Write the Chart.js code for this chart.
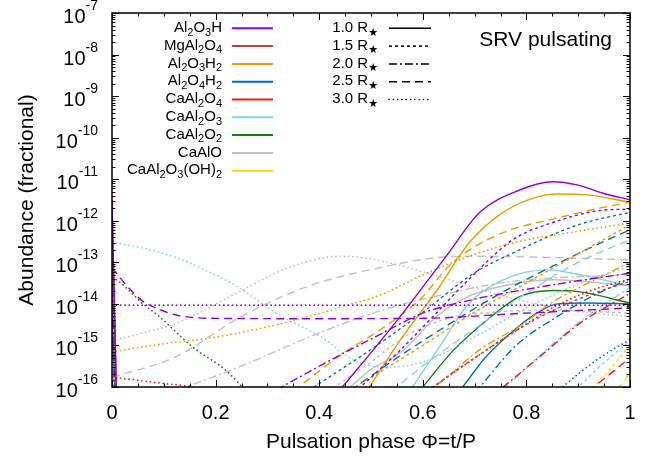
<!DOCTYPE html>
<html>
<head>
<meta charset="utf-8">
<script src="https://cdn.jsdelivr.net/npm/chart.js@4.4.1/dist/chart.umd.min.js"></script>
<style>
html, body { margin: 0; padding: 0; background: #fff; }
#wrap { width: 658px; height: 461px; position: relative; }
</style>
</head>
<body>
<div id="wrap"><canvas id="grafica"></canvas></div>
<script>
// Ejes y etiquetas
const xTicks = [0, 0.2, 0.4, 0.6, 0.8, 1];
const xTickLabels = ['0', '0.2', '0.4', '0.6', '0.8', '1'];
const xMinorTicks = [0.05, 0.1, 0.15, 0.25, 0.3, 0.35, 0.45, 0.5, 0.55, 0.65, 0.7, 0.75, 0.85, 0.9, 0.95];
const yTicks = [1e-7, 1e-8, 1e-9, 1e-10, 1e-11, 1e-12, 1e-13, 1e-14, 1e-15, 1e-16];
const yTickExps = ['-7', '-8', '-9', '-10', '-11', '-12', '-13', '-14', '-15', '-16'];
const yMinorFactors = [2, 3, 4, 5, 6, 7, 8, 9];

// Especies y radios
const speciesNames = ['Al_2O_3H', 'MgAl_2O_4', 'Al_2O_3H_2', 'Al_2O_4H_2', 'CaAl_2O_4', 'CaAl_2O_3', 'CaAl_2O_2', 'CaAlO', 'CaAl_2O_3(OH)_2'];
const speciesColors = ['#9400d3', '#b8433f', '#e69f00', '#0072b2', '#e51e10', '#87ceeb', '#1a7a1a', '#c0c0c0', '#ffd700'];
const radiusLabels = ['1.0 R_\u2605', '1.5 R_\u2605', '2.0 R_\u2605', '2.5 R_\u2605', '3.0 R_\u2605'];
const radiusDashes = [[], [3, 3], [8, 3, 2, 3], [8, 5], [0.1, 4.2]];

// Datos [fase, abundancia]; null corta la curva (tramo por debajo del eje)
const Al2O3H_10 = [[0,3.2e-12],[0.01,1e-17],[0.02,null],[0.40,2e-17],[0.44,8.5e-17],[0.497,6e-16],[0.561,5.9e-15],[0.646,1.45e-13],[0.71,1.6e-12],[0.787,5.5e-12],[0.851,8.7e-12],[0.9,7.2e-12],[0.948,4.6e-12],[1,3.2e-12]];
const Al2O3H_15 = [[0,1.9e-12],[0.01,1e-17],[0.02,null],[0.45,4.5e-17],[0.48,1e-16],[0.555,7.4e-16],[0.62,5e-15],[0.69,4e-14],[0.774,3.5e-13],[0.851,9.1e-13],[0.948,1.8e-12],[1,1.9e-12]];
const Al2O3H_20 = [[0,5.5e-14],[0.008,1e-17],[0.02,null],[0.29,5.7e-17],[0.327,1e-16],[0.42,4.3e-16],[0.516,1.8e-15],[0.6,6e-15],[0.7,1.3e-14],[0.787,2.1e-14],[0.9,3.6e-14],[1,5.5e-14]];
const Al2O3H_25 = [[0,7.4e-14],[0.03,2.6e-14],[0.058,1.2e-14],[0.09,7.5e-15],[0.124,5.4e-15],[0.19,4.5e-15],[0.4,4.4e-15],[0.6,4.5e-15],[0.787,5.9e-15],[1,8e-15]];
const Al2O3H_30 = [[0,9.3e-15],[0.5,9.3e-15],[1,9.3e-15]];

const MgAl2O4_15 = [[0.59,5e-17],[0.62,1e-16],[0.7,5e-16],[0.8,3.2e-15],[0.9,1.3e-14],[1,3.5e-14]];

const Al2O3H2_10 = [[0,2.8e-12],[0.01,1e-17],[0.02,null],[0.47,3e-17],[0.497,1e-16],[0.561,1.6e-15],[0.627,2.1e-14],[0.69,3e-13],[0.755,1.6e-12],[0.82,3.7e-12],[0.859,4.4e-12],[0.917,4.2e-12],[1,2.8e-12]];
const Al2O3H2_15 = [[0,8e-13],[0.01,1e-17],[0.02,null],[0.44,5.9e-17],[0.47,1e-16],[0.6,1e-15],[0.7,6.3e-15],[0.8,3.2e-14],[0.9,1.6e-13],[1,8e-13]];
const Al2O3H2_20 = [[0,1e-13],[0.008,1e-17],[0.02,null],[0.58,4e-17],[0.633,1.26e-16],[0.71,7.9e-16],[0.795,3.4e-15],[0.845,1e-14],[0.92,3.2e-14],[1,1e-13]];
const Al2O3H2_25 = [[0,2.8e-12],[0.01,1e-17],[0.02,null],[0.33,5.2e-17],[0.36,1e-16],[0.45,7e-16],[0.516,2.3e-15],[0.594,1.26e-14],[0.658,1e-13],[0.755,5.2e-13],[0.851,1.1e-12],[0.948,2.1e-12],[1,2.8e-12]];
const Al2O3H2_30 = [[0,7e-16],[0.1,1.1e-15],[0.188,1.5e-15],[0.3,2.8e-15],[0.38,5e-15],[0.45,9e-15],[0.516,1.6e-14],[0.6,5e-14],[0.69,1.4e-13],[0.787,3.2e-13],[0.9,5.6e-13],[1,8.9e-13]];

const Al2O4H2_10 = [[0,1e-14],[0.008,1e-17],[0.02,null],[0.65,3.7e-17],[0.677,1e-16],[0.72,5e-16],[0.77,2e-15],[0.82,6e-15],[0.86,1e-14],[0.92,1.05e-14],[1,1e-14]];
const Al2O4H2_15 = [[0,1.6e-12],[0.01,1e-17],[0.02,null],[0.36,5.7e-17],[0.39,1e-16],[0.5,8e-16],[0.6,6.3e-15],[0.7,5.6e-14],[0.787,2e-13],[0.9,8e-13],[1,1.6e-12]];
const Al2O4H2_20 = [[0,4e-14],[0.008,1e-17],[0.02,null],[0.68,3.8e-17],[0.71,1e-16],[0.78,1e-15],[0.86,5e-15],[0.93,1.6e-14],[1,4e-14]];
const Al2O4H2_25 = [[0,6e-13],[0.01,1e-17],[0.02,null],[0.44,5.5e-17],[0.47,1e-16],[0.55,5e-16],[0.65,3.2e-15],[0.75,1.8e-14],[0.85,8e-14],[0.95,3.2e-13],[1,6e-13]];
const Al2O4H2_30 = [[0.84,4.5e-17],[0.87,1e-16],[0.936,4.5e-16],[1,1.4e-15]];

const CaAl2O4_20 = [[0.73,5.6e-17],[0.755,1e-16],[0.826,5.4e-16],[0.903,3.4e-15],[1,1.8e-14]];
const CaAl2O4_25 = [[0.9,5e-17],[0.93,1e-16],[1,5e-16]];
const CaAl2O4_30 = [[0,1.75e-16],[0.08,1.3e-16],[0.17,9e-17],[0.22,5e-17],[0.3,null],[0.6,6.7e-17],[0.62,1e-16],[0.71,6e-16],[0.795,3e-15],[0.85,8e-15],[0.92,2e-14],[1,4e-14]];

const CaAl2O3_10 = [[0,2.7e-14],[0.008,1e-17],[0.02,null],[0.56,4.4e-17],[0.58,1e-16],[0.627,7.4e-16],[0.69,1.05e-14],[0.755,3.8e-14],[0.84,6.6e-14],[0.884,5.6e-14],[1,2.7e-14]];
const CaAl2O3_15 = [[0.87,4.5e-17],[0.9,1e-16],[0.96,5e-16],[1,1.3e-15]];
const CaAl2O3_20 = [[0.73,4.7e-17],[0.76,1e-16],[0.83,6.3e-16],[0.9,3.5e-15],[1,2.5e-14]];
const CaAl2O3_25 = [[0,3.5e-13],[0.01,1e-17],[0.02,null],[0.52,5e-17],[0.55,1e-16],[0.6,3.2e-16],[0.7,2.5e-15],[0.8,1.8e-14],[0.9,1e-13],[1,3.5e-13]];
const CaAl2O3_30 = [[0,3e-13],[0.06,2.2e-13],[0.124,1.3e-13],[0.18,6.5e-14],[0.24,2.7e-14],[0.318,5.9e-15],[0.415,1.3e-15],[0.446,6.3e-16],[0.484,3.6e-16],[0.53,3e-16],[0.6,4e-16],[0.7,1.6e-15],[0.8,8e-15],[0.9,3e-14],[1,8e-14]];

const CaAl2O2_10 = [[0,1.05e-14],[0.008,1e-17],[0.02,null],[0.57,3.5e-17],[0.6,1e-16],[0.658,7.4e-16],[0.723,4e-15],[0.787,1.5e-14],[0.851,2.1e-14],[0.897,2e-14],[1,1.05e-14]];
const CaAl2O2_20 = [[0,4e-15],[0.006,1e-17]];
const CaAl2O2_30 = [[0,4e-14],[0.008,3.8e-14],[0.058,1.05e-14],[0.091,5e-15],[0.155,9.3e-16],[0.22,2.5e-16],[0.252,1e-16],[0.27,6e-17]];

const CaAlO_10 = [[0,2.7e-14],[0.008,1e-17],[0.02,null],[0.43,5e-17],[0.46,1e-16],[0.497,2.5e-16],[0.561,7.4e-16],[0.627,5e-15],[0.69,1.55e-14],[0.755,2.7e-14],[0.851,3.8e-14],[1,2.7e-14]];
const CaAlO_15 = [[0,6e-15],[0.008,1e-17],[0.02,null],[0.4,5e-17],[0.43,1e-16],[0.5,4e-16],[0.57,1.8e-15],[0.65,4.5e-15],[0.75,6.5e-15],[0.85,7e-15],[1,6e-15]];
const CaAlO_20 = [[0.1,6.3e-17],[0.143,1e-16],[0.25,3.2e-16],[0.35,1.1e-15],[0.45,3.5e-15],[0.55,9e-15],[0.65,1.8e-14],[0.75,3.2e-14],[0.85,4.2e-14],[1,5e-14]];
const CaAlO_25 = [[0,1.7e-16],[0.124,5.4e-16],[0.25,5e-15],[0.381,2.7e-14],[0.516,7.4e-14],[0.627,1.3e-13],[0.69,1.4e-13],[0.8,1.35e-13],[1,1.15e-13]];
const CaAlO_30 = [[0,1.3e-15],[0.06,2e-15],[0.124,3.4e-15],[0.25,2.1e-14],[0.33,6.6e-14],[0.41,1.3e-13],[0.445,1.4e-13],[0.516,1.1e-13],[0.627,4.7e-14],[0.755,1.55e-14],[0.884,7e-15],[1,5e-15]];

const CaAl2O3OH2_15 = [[0.9,5e-17],[0.93,1e-16],[1,1e-15]];
const CaAl2O3OH2_25 = [[0.96,4.5e-17],[0.98,1e-16],[1,2.2e-16]];

// [indice especie, indice radio, datos]
const series = [
    [0, 0, Al2O3H_10], [0, 1, Al2O3H_15], [0, 2, Al2O3H_20], [0, 3, Al2O3H_25], [0, 4, Al2O3H_30],
    [1, 1, MgAl2O4_15],
    [2, 0, Al2O3H2_10], [2, 1, Al2O3H2_15], [2, 2, Al2O3H2_20], [2, 3, Al2O3H2_25], [2, 4, Al2O3H2_30],
    [3, 0, Al2O4H2_10], [3, 1, Al2O4H2_15], [3, 2, Al2O4H2_20], [3, 3, Al2O4H2_25], [3, 4, Al2O4H2_30],
    [4, 2, CaAl2O4_20], [4, 3, CaAl2O4_25], [4, 4, CaAl2O4_30],
    [5, 0, CaAl2O3_10], [5, 1, CaAl2O3_15], [5, 2, CaAl2O3_20], [5, 3, CaAl2O3_25], [5, 4, CaAl2O3_30],
    [6, 0, CaAl2O2_10], [6, 2, CaAl2O2_20], [6, 4, CaAl2O2_30],
    [7, 0, CaAlO_10], [7, 1, CaAlO_15], [7, 2, CaAlO_20], [7, 3, CaAlO_25], [7, 4, CaAlO_30],
    [8, 1, CaAl2O3OH2_15], [8, 3, CaAl2O3OH2_25]
];

const FONT = '"Liberation Sans", Arial, "DejaVu Sans", sans-serif';

// Texto con subindices: "_X" baja el caracter X
function textoSub(ctx, text, x, y, size, align) {
    const parts = [];
    for (let i = 0; i < text.length; i++) {
        if (text[i] === '_') {
            parts.push({ t: text[i + 1], sub: true });
            i++;
        } else if (parts.length && !parts[parts.length - 1].sub) {
            parts[parts.length - 1].t += text[i];
        } else {
            parts.push({ t: text[i], sub: false });
        }
    }
    const subSize = Math.round(size * 0.72);
    let total = 0;
    parts.forEach(p => {
        ctx.font = (p.sub ? subSize : size) + 'px ' + FONT;
        p.w = ctx.measureText(p.t).width;
        total += p.w;
    });
    let cx = align === 'right' ? x - total : x;
    ctx.textAlign = 'left';
    ctx.textBaseline = 'alphabetic';
    parts.forEach(p => {
        ctx.font = (p.sub ? subSize : size) + 'px ' + FONT;
        ctx.fillText(p.t, cx, p.sub ? y + size * 0.25 : y);
        cx += p.w;
    });
}

const decoracion = {
    id: 'decoracion',
    afterDatasetsDraw(chart) {
        const ctx = chart.ctx;
        const a = chart.chartArea;
        const xs = chart.scales.x;
        const ys = chart.scales.y;
        ctx.save();
        ctx.strokeStyle = '#000';
        ctx.fillStyle = '#000';
        ctx.setLineDash([]);

        // marcas hacia dentro
        ctx.lineWidth = 1;
        ctx.beginPath();
        xMinorTicks.forEach(v => {
            const px = Math.round(xs.getPixelForValue(v)) + 0.5;
            ctx.moveTo(px, a.bottom); ctx.lineTo(px, a.bottom - 3.5);
            ctx.moveTo(px, a.top); ctx.lineTo(px, a.top + 3.5);
        });
        xTicks.forEach(v => {
            const px = Math.round(xs.getPixelForValue(v)) + 0.5;
            ctx.moveTo(px, a.bottom); ctx.lineTo(px, a.bottom - 7);
            ctx.moveTo(px, a.top); ctx.lineTo(px, a.top + 7);
        });
        yTicks.forEach((v, i) => {
            const py = Math.round(ys.getPixelForValue(v)) + 0.5;
            ctx.moveTo(a.left, py); ctx.lineTo(a.left + 7, py);
            ctx.moveTo(a.right, py); ctx.lineTo(a.right - 7, py);
            if (i < yTicks.length - 1) {
                yMinorFactors.forEach(f => {
                    const pm = Math.round(ys.getPixelForValue(f * yTicks[i + 1])) + 0.5;
                    ctx.moveTo(a.left, pm); ctx.lineTo(a.left + 3.5, pm);
                    ctx.moveTo(a.right, pm); ctx.lineTo(a.right - 3.5, pm);
                });
            }
        });
        ctx.stroke();

        // marco
        ctx.lineWidth = 1.5;
        ctx.strokeRect(a.left, a.top, a.right - a.left, a.bottom - a.top);

        // etiquetas eje x
        ctx.font = '20px ' + FONT;
        ctx.textAlign = 'center';
        ctx.textBaseline = 'alphabetic';
        xTicks.forEach((v, i) => {
            ctx.fillText(xTickLabels[i], xs.getPixelForValue(v), 419);
        });

        // etiquetas eje y (10 con exponente)
        yTicks.forEach((v, i) => {
            const py = ys.getPixelForValue(v);
            ctx.font = '14px ' + FONT;
            const w2 = ctx.measureText(yTickExps[i]).width;
            ctx.textAlign = 'left';
            ctx.fillText(yTickExps[i], 98 - w2, py - 3);
            ctx.font = '20px ' + FONT;
            ctx.textAlign = 'right';
            ctx.fillText('10', 98 - w2, py + 10);
        });

        // titulos
        ctx.font = '21px ' + FONT;
        ctx.textAlign = 'center';
        ctx.fillText('Pulsation phase \u03A6=t/P', (a.left + a.right) / 2, 448);
        ctx.save();
        ctx.translate(27, (a.top + a.bottom) / 2);
        ctx.rotate(-Math.PI / 2);
        ctx.textBaseline = 'middle';
        ctx.fillText('Abundance (fractional)', 0, 0);
        ctx.restore();

        ctx.font = '21px ' + FONT;
        ctx.textAlign = 'right';
        ctx.textBaseline = 'alphabetic';
        ctx.fillText('SRV pulsating', 612, 46);

        // leyenda de especies
        speciesNames.forEach((name, i) => {
            const yc = 28.3 + i * 17.8;
            ctx.fillStyle = '#000';
            textoSub(ctx, name, 222, yc + 3.6, 15, 'right');
            ctx.strokeStyle = speciesColors[i];
            ctx.lineWidth = 2;
            ctx.setLineDash([]);
            ctx.beginPath();
            ctx.moveTo(232, yc); ctx.lineTo(273, yc);
            ctx.stroke();
        });

        // leyenda de radios
        radiusLabels.forEach((lbl, i) => {
            const yc = 28.3 + i * 17.8;
            ctx.fillStyle = '#000';
            textoSub(ctx, lbl, 378, yc + 3.6, 15, 'right');
            ctx.strokeStyle = '#000';
            ctx.lineWidth = i === 4 ? 1.6 : 1.5;
            ctx.lineCap = i === 4 ? 'round' : 'butt';
            ctx.setLineDash(radiusDashes[i]);
            ctx.beginPath();
            ctx.moveTo(389, yc); ctx.lineTo(431, yc);
            ctx.stroke();
        });
        ctx.restore();
    }
};

const datasets = series.map(s => ({
    label: speciesNames[s[0]] + ' ' + radiusLabels[s[1]],
    data: s[2].map(p => ({ x: p[0], y: p[1] })),
    borderColor: speciesColors[s[0]],
    borderWidth: s[1] === 4 ? 1.7 : 1.4,
    borderDash: radiusDashes[s[1]],
    borderCapStyle: s[1] === 4 ? 'round' : 'butt',
    pointRadius: 0,
    fill: false,
    spanGaps: false,
    cubicInterpolationMode: 'monotone'
}));

new Chart(document.getElementById('grafica'), {
    type: 'line',
    data: { datasets: datasets },
    options: {
        responsive: true,
        maintainAspectRatio: false,
        animation: false,
        layout: { padding: { left: 112, right: 28, top: 13, bottom: 74 } },
        plugins: { legend: { display: false }, tooltip: { enabled: false } },
        scales: {
            x: { type: 'linear', min: 0, max: 1, display: false },
            y: { type: 'logarithmic', min: 1e-16, max: 1e-7, display: false }
        }
    },
    plugins: [decoracion]
});
</script>
</body>
</html>
